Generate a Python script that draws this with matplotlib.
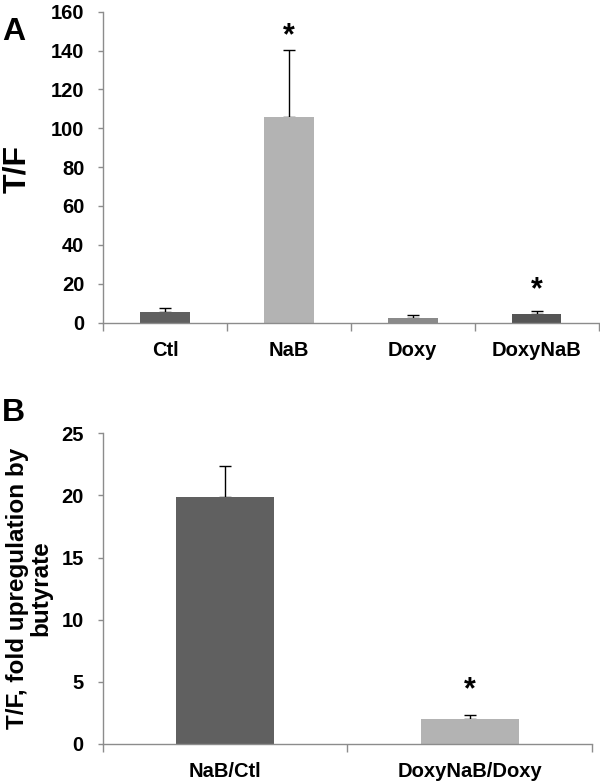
import numpy as np
import matplotlib.pyplot as plt

plt.rcParams['font.family'] = ['Liberation Sans', 'DejaVu Sans']
plt.rcParams['font.weight'] = 'bold'

# ---- Panel A data ----
cats_a = ["Ctl", "NaB", "Doxy", "DoxyNaB"]
vals_a = [5.6, 106.0, 2.4, 4.6]
err_a = [2.1, 34.2, 1.4, 1.4]
colors_a = ["#606060", "#b3b3b3", "#8a8a8a", "#555555"]
star_y_a = [None, 147.5, None, 16.8]   # where the * marks sit

# ---- Panel B data ----
cats_b = ["NaB/Ctl", "DoxyNaB/Doxy"]
vals_b = [19.9, 2.0]
err_b = [2.45, 0.32]
colors_b = ["#606060", "#b3b3b3"]
star_y_b = [None, 4.35]

SPINE = "#8c8c8c"

fig = plt.figure(figsize=(6.0, 7.81), dpi=100)


def style_axis(ax, cats, ymax, ystep):
    n = len(cats)
    ax.set_xlim(-0.5, n - 0.5)
    ax.set_ylim(0, ymax)
    ax.set_yticks(np.arange(0, ymax + 0.1, ystep))
    # category dividers as major ticks, names on minor ticks
    ax.set_xticks(np.arange(n + 1) - 0.5)
    ax.set_xticklabels([""] * (n + 1))
    ax.set_xticks(np.arange(n), minor=True)
    ax.set_xticklabels(cats, minor=True, fontweight='bold')
    ax.tick_params(axis='x', which='major', direction='out', length=6,
                   color=SPINE, width=1)
    ax.tick_params(axis='x', which='minor', length=0, pad=13,
                   labelsize=14.5)
    ax.tick_params(axis='y', direction='out', length=3.5, color=SPINE,
                   width=1, labelsize=14.5, pad=10)
    for s in ['top', 'right']:
        ax.spines[s].set_visible(False)
    for s in ['left', 'bottom']:
        ax.spines[s].set_color(SPINE)
        ax.spines[s].set_linewidth(1)
    for lab in ax.get_yticklabels():
        lab.set_fontweight('bold')


def draw_bars(ax, vals, errs, colors, star_y):
    x = np.arange(len(vals))
    # error bar under the bar so only the upper half shows
    ax.errorbar(x, vals, yerr=[np.zeros(len(errs)), errs], fmt='none',
                ecolor='black', elinewidth=1, capsize=4, capthick=1,
                zorder=1)
    ax.bar(x, vals, width=0.4, color=colors, zorder=2)
    for i, sy in enumerate(star_y):
        if sy is not None:
            ax.text(x[i], sy, "*", ha='center', va='center',
                    fontsize=22, fontweight='bold')


# ================= PANEL A =================
ax1 = fig.add_axes([0.1717, 0.587, 0.826, 0.398])
draw_bars(ax1, vals_a, err_a, colors_a, star_y_a)
style_axis(ax1, cats_a, 160, 20)
fig.text(17 / 600, 0.783, "T/F", rotation=90, ha='center', va='center',
         fontsize=23, fontweight='bold')
fig.text(0.003, 0.978, "A", fontsize=23, fontweight='bold', va='top')

# ================= PANEL B =================
ax2 = fig.add_axes([0.171, 0.0474, 0.816, 0.3978])
draw_bars(ax2, vals_b, err_b, colors_b, star_y_b)
style_axis(ax2, cats_b, 25, 5)
fig.text(29 / 600, 0.247, "T/F, fold upregulation by\nbutyrate", rotation=90,
         ha='center', va='center', multialignment='center', fontsize=17.5,
         fontweight='bold', linespacing=1.05)
fig.text(0.003, 0.490, "B", fontsize=23, fontweight='bold', va='top')

plt.savefig("out.png", dpi=100)
plt.close()
